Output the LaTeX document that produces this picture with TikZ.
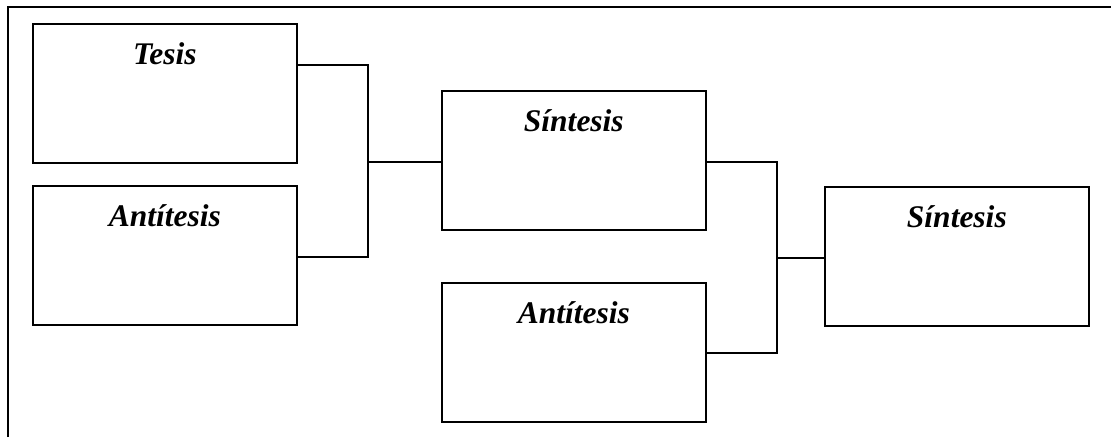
\documentclass[tikz,border=0pt]{standalone}
\usepackage{fontspec}
\setmainfont{Liberation Serif}
\begin{document}
\begin{tikzpicture}[x=1pt,y=1pt,
  line width=1.7pt,
  box/.style={draw, rectangle, inner sep=0pt, minimum width=264pt,
              minimum height=139pt, anchor=north west},
  title/.style={anchor=base, inner sep=0pt,
                font=\fontsize{31.5}{36}\selectfont\bfseries\itshape},
  link/.style={line width=1.7pt, line cap=rect}]
  \useasboundingbox (0,0) rectangle (1111,-437);

  % open frame: top and left sides only
  \draw (8,-437) -- (8,-7) -- (1111,-7);

  % boxes
  \node[box] (tesis) at (32,-23)  {};
  \node[box] (anti1) at (32,-185) {};
  \node[box] (sint1) at (441,-90) {};
  \node[box] (anti2) at (441,-282) {};
  \node[box] (sint2) at (824,-186) {};

  % titles
  \node[title] (ttesis) at ([yshift=-41pt]tesis.north) {Tesis};
  \node[title] (tanti1) at ([yshift=-41pt]anti1.north) {Antítesis};
  \node[title] (tsint1) at ([yshift=-41pt]sint1.north) {Síntesis};
  \node[title] (tanti2) at ([yshift=-41pt]anti2.north) {Antítesis};
  \node[title] (tsint2) at ([yshift=-41pt]sint2.north) {Síntesis};

  % first bracket: tesis + antitesis -> sintesis
  \coordinate (b1) at (368,-162);
  \draw[link] (tesis.east |- 0,-65) -| (b1) |- (anti1.east |- 0,-257);
  \draw[link] (b1) -- (sint1.west |- b1);

  % second bracket: sintesis + antitesis -> sintesis
  \coordinate (b2) at (777,-258);
  \draw[link] (sint1.east |- 0,-162) -| (b2) |- (anti2.east |- 0,-353);
  \draw[link] (b2) -- (sint2.west |- b2);
\end{tikzpicture}
\end{document}
